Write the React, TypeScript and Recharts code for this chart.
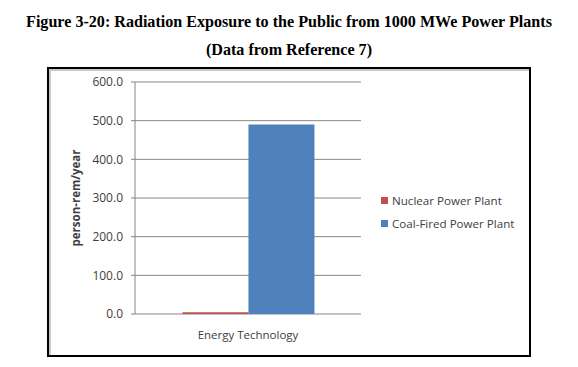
import React from "react";
import { BarChart, Bar, XAxis, YAxis, CartesianGrid, Legend } from "recharts";

const categories = ["Energy Technology"];
const nuclearValues = [4.8];
const coalValues = [490];
const yTicks = [0, 100, 200, 300, 400, 500, 600];
const seriesKeys = ["nuclear", "coal"];
const seriesNames = { nuclear: "Nuclear Power Plant", coal: "Coal-Fired Power Plant" };
const titleLines = [
  "Figure 3-20: Radiation Exposure to the Public from 1000 MWe Power Plants",
  "(Data from Reference 7)",
];

const data = categories.map((c, i) => ({
  name: c,
  nuclear: nuclearValues[i],
  coal: coalValues[i],
}));

const FONT = "'Open Sans', sans-serif";
const AXIS = "#868686";
const TEXT = "#404040";

const LegendContent = (props: any) => {
  const payload = [...(props.payload || [])].sort(
    (a: any, b: any) => seriesKeys.indexOf(a.dataKey) - seriesKeys.indexOf(b.dataKey)
  );
  return (
    <div style={{ fontFamily: FONT, fontSize: 11.6, color: TEXT }}>
      {payload.map((p: any) => (
        <div key={p.value} style={{ display: "flex", alignItems: "center", height: 23 }}>
          <span style={{ display: "inline-block", width: 7, height: 7, background: p.color, marginRight: 4 }} />
          <span>{p.value}</span>
        </div>
      ))}
    </div>
  );
};

const titleStyle: React.CSSProperties = {
  position: "absolute",
  left: 0,
  width: 578,
  textAlign: "center",
  fontFamily: "'Liberation Serif', serif",
  fontWeight: "bold",
  fontSize: 16.1,
  lineHeight: "20px",
  color: "#000",
};

export default function App() {
  return (
    <div style={{ position: "absolute", left: 0, top: 0, width: 578, height: 367, background: "#fff" }}>
      <div style={{ ...titleStyle, top: 12 }}>{titleLines[0]}</div>
      <div style={{ ...titleStyle, top: 40 }}>{titleLines[1]}</div>
      <div style={{ position: "absolute", left: 47, top: 67, width: 480, height: 286, border: "2px solid #000" }}>
        <div style={{ position: "absolute", left: 0, top: 0, right: 0, bottom: 0, borderLeft: "2px solid #c8c8c8", borderTop: "2px solid #c8c8c8" }} />
        <div style={{ position: "absolute", left: 0, top: 0 }}>
          <BarChart
            width={480}
            height={286}
            data={data}
            margin={{ top: 13, right: 168, bottom: 11, left: 22 }}
            barCategoryGap="21%"
            barGap={0}
          >
            <CartesianGrid vertical={false} stroke={AXIS} strokeWidth={1} />
            <XAxis
              xAxisId="edge"
              type="number"
              domain={[0, 1]}
              ticks={[0, 1]}
              tick={false}
              tickSize={4}
              tickLine={{ stroke: AXIS }}
              axisLine={{ stroke: AXIS }}
              height={0}
            />
            <XAxis
              dataKey="name"
              height={30}
              axisLine={false}
              tickLine={false}
              tickSize={0}
              tickMargin={17}
              tick={{ fill: TEXT, fontSize: 11.5, fontFamily: FONT }}
            />
            <YAxis
              width={64}
              domain={[0, 600]}
              ticks={yTicks}
              tickFormatter={(v: number) => v.toFixed(1)}
              tick={{ fill: TEXT, fontSize: 12, fontFamily: FONT }}
              tickSize={4}
              tickMargin={8}
              tickLine={{ stroke: AXIS }}
              axisLine={{ stroke: AXIS }}
              label={{
                value: "person-rem/year",
                angle: -90,
                position: "insideLeft",
                offset: 5,
                style: { textAnchor: "middle", fontFamily: FONT, fontSize: 11.5, fontWeight: "bold", fill: TEXT },
              }}
            />
            <Legend
              layout="vertical"
              align="center"
              verticalAlign="middle"
              content={<LegendContent />}
              wrapperStyle={{ position: "absolute", left: 332, top: 120, width: 145 }}
            />
            <Bar dataKey="nuclear" name={seriesNames.nuclear} fill="#C0504D" isAnimationActive={false} />
            <Bar dataKey="coal" name={seriesNames.coal} fill="#4F81BD" isAnimationActive={false} />
          </BarChart>
        </div>
      </div>
    </div>
  );
}
